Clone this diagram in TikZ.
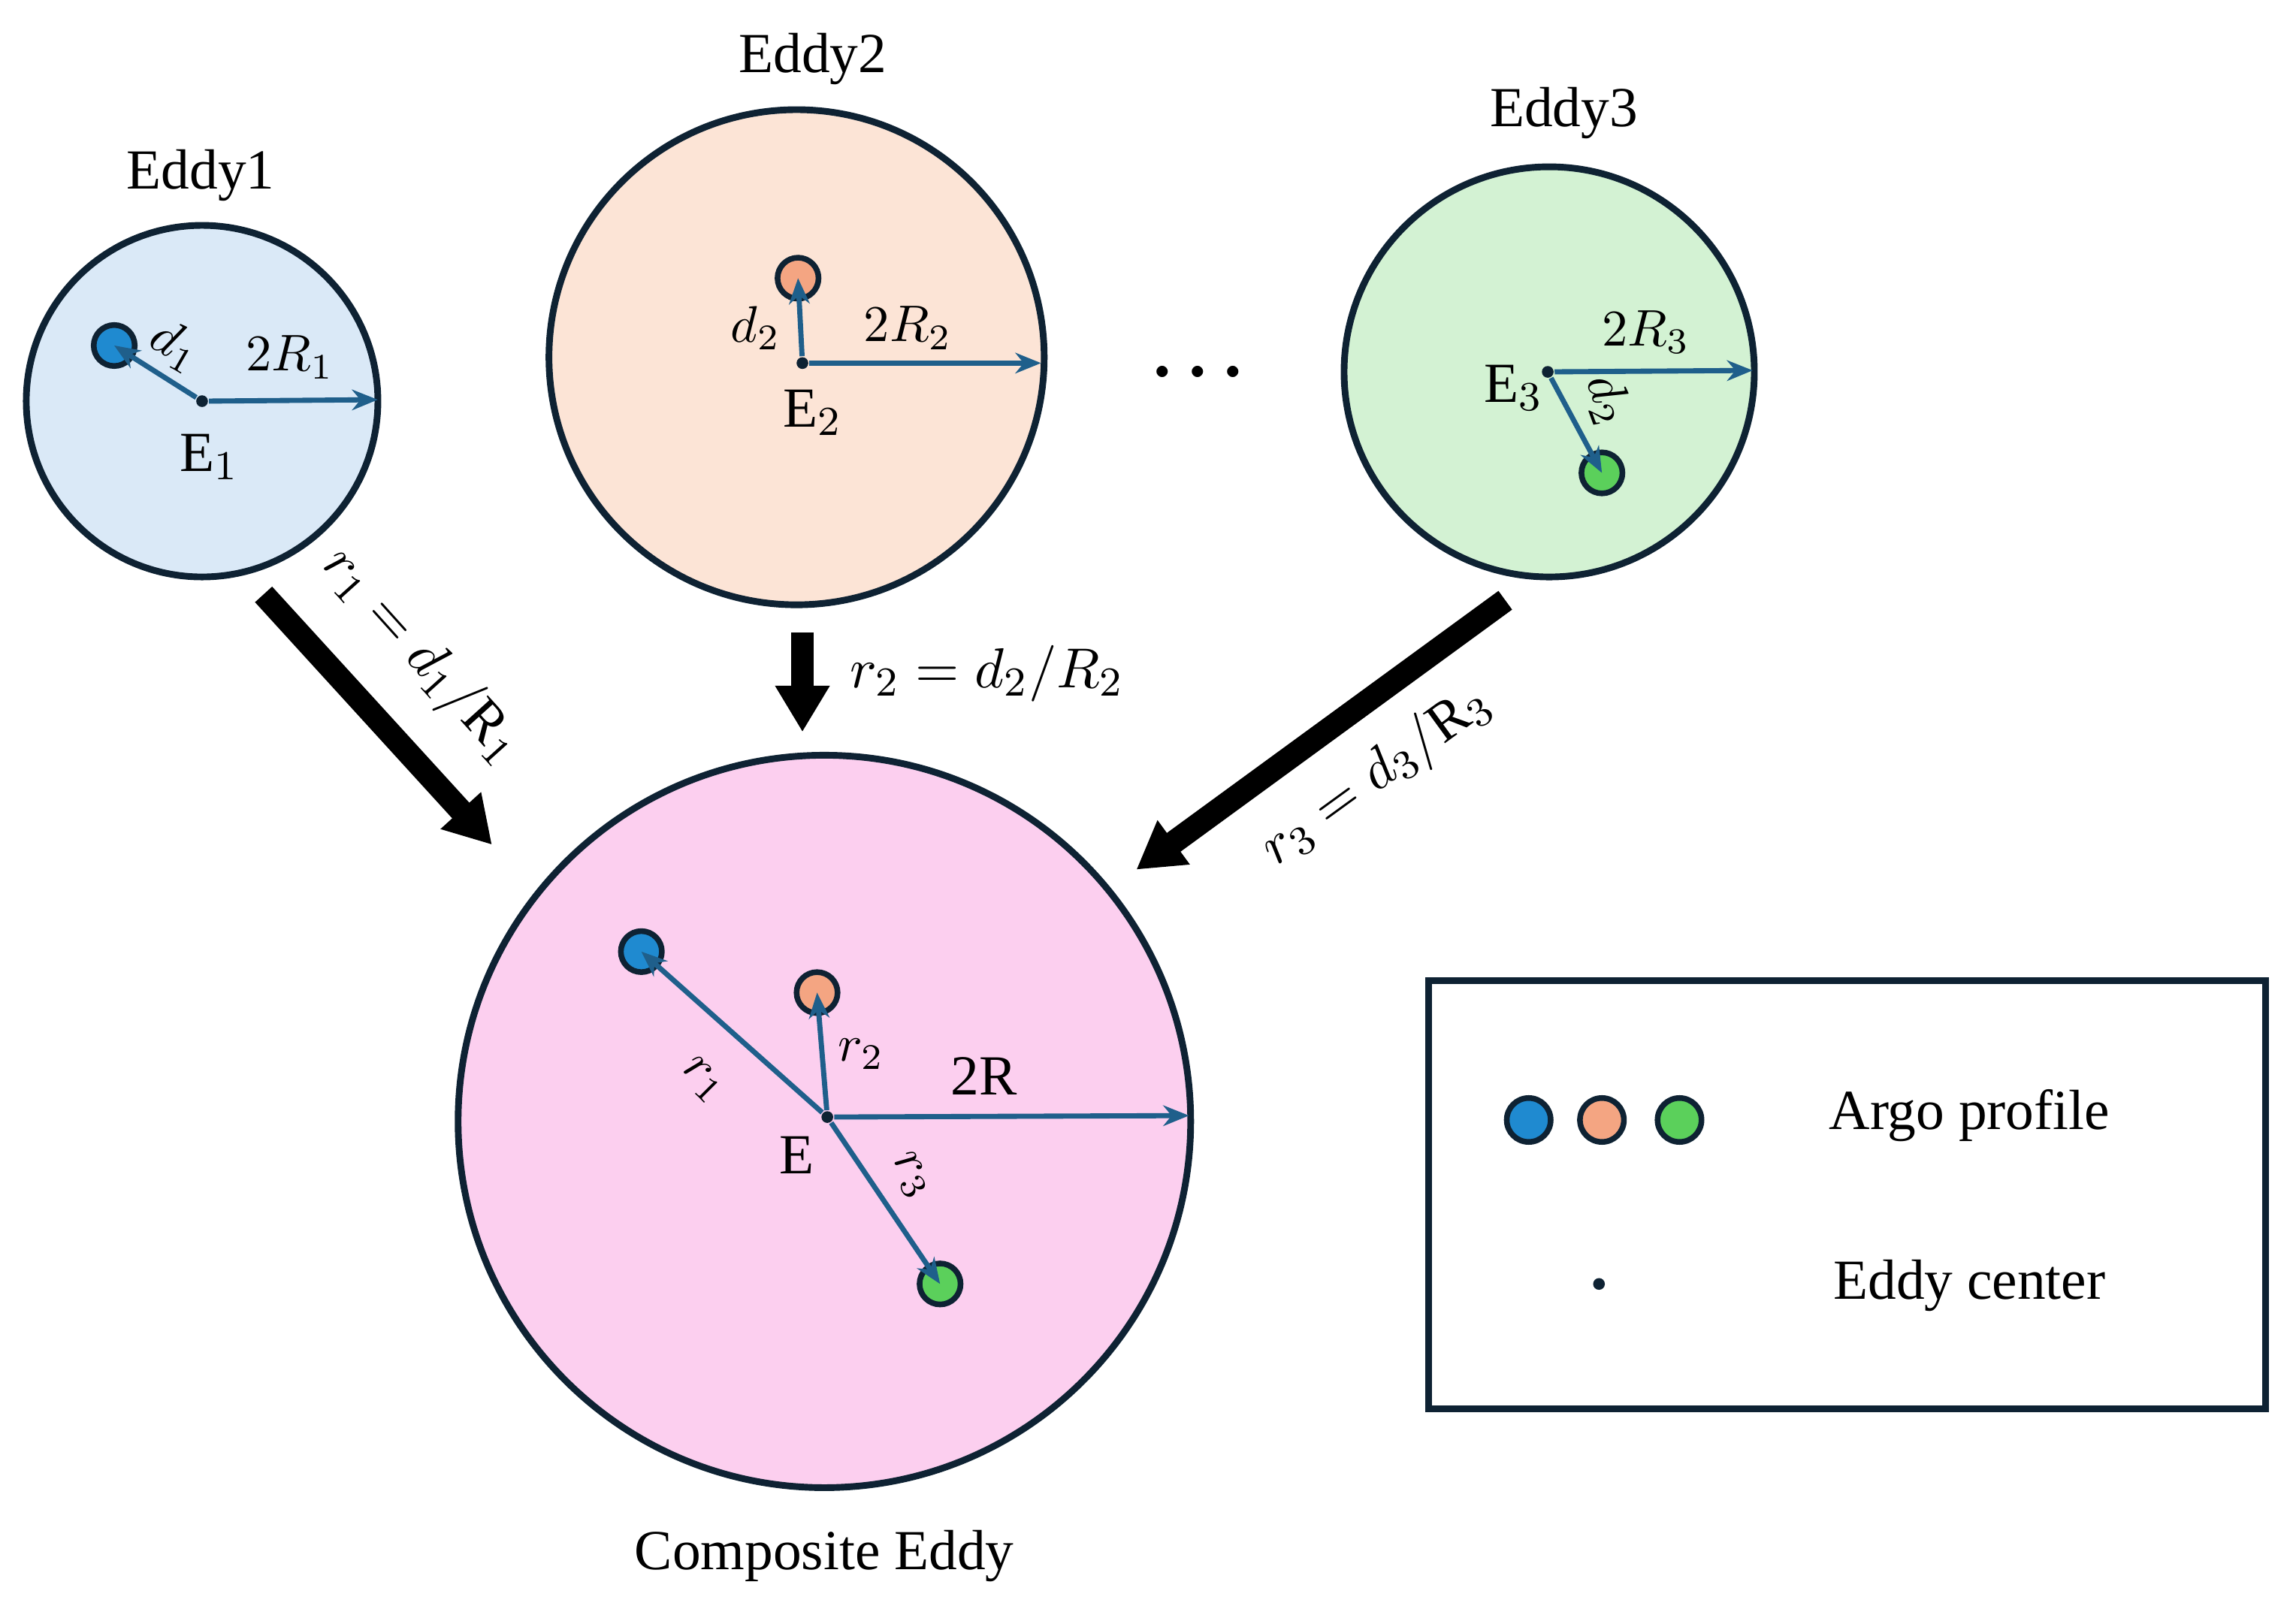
\documentclass[tikz,border=0pt]{standalone}
\usepackage{fontspec}
\setmainfont{Liberation Serif}
\usetikzlibrary{arrows.meta}
\definecolor{ebl}{HTML}{DAE9F7}
\definecolor{eor}{HTML}{FCE4D6}
\definecolor{egr}{HTML}{D3F2D3}
\definecolor{epk}{HTML}{FCCFEF}
\definecolor{pbl}{HTML}{1F8AD0}
\definecolor{por}{HTML}{F4A582}
\definecolor{pgr}{HTML}{5BD05B}
\definecolor{arr}{HTML}{1F5F8B}
\definecolor{edge}{HTML}{0E2233}
\begin{document}
\begin{tikzpicture}[x=0.01cm,y=-0.01cm,
  eddy/.style={circle,draw=edge,line width=1.3pt,inner sep=0pt},
  prof/.style={circle,draw=edge,line width=1.1pt,inner sep=0pt,minimum size=0.28cm},
  ctr/.style={circle,fill=edge,inner sep=0pt,minimum size=0.08cm},
  rad/.style={draw=arr,line width=1pt,-{Stealth[length=5pt,width=4pt]}},
  big/.style={line width=4.5pt,-{Triangle[length=9pt,width=10pt]}},
  txt/.style={font=\fontsize{11}{13}\selectfont},
  lab/.style={font=\fontsize{10}{12}\selectfont,inner sep=1pt}]
\useasboundingbox (0,0) rectangle (1568,1099);
% Eddy1
\node[eddy,fill=ebl,minimum size=2.4cm] (c1) at (138,274) {};
\node[txt] (t1) at (137,120) {Eddy1};
\node[prof,fill=pbl] (p1) at (78,236) {};
\node[ctr] (e1) at (138,274) {};
\coordinate (r1e) at (258,273);
\draw[rad] (e1) -- (p1.center);
\draw[rad] (e1) -- (r1e);
\node[txt] at (143,312) {E$_1$};
\node[lab,rotate=-30] at (120,236) {$d_1$};
\node[lab] at (198,244) {$2R_1$};
% Eddy2
\node[eddy,fill=eor,minimum size=3.38cm] (c2) at (544,244) {};
\node[txt] (t2) at (555,40) {Eddy2};
\node[prof,fill=por] (p2) at (545,190) {};
\node[ctr] (e2) at (548,248) {};
\coordinate (r2e) at (711,248);
\draw[rad] (e2) -- (p2.center);
\draw[rad] (e2) -- (r2e);
\node[txt] at (555,282) {E$_2$};
\node[lab] at (516,224) {$d_2$};
\node[lab] at (620,224) {$2R_2$};
\node[font=\fontsize{20}{20}\selectfont] at (818,256) {$\cdot\!\cdot\!\cdot$};
% Eddy3
\node[eddy,fill=egr,minimum size=2.8cm] (c3) at (1058,254) {};
\node[txt] (t3) at (1068,77) {Eddy3};
\node[prof,fill=pgr] (p3) at (1094,323) {};
\node[ctr] (e3) at (1057,254) {};
\coordinate (r3e) at (1197,253);
\draw[rad] (e3) -- (p3.center);
\draw[rad] (e3) -- (r3e);
\node[txt] at (1034,265) {E$_3$};
\node[lab,rotate=-70] at (1098,273) {$d_2$};
\node[lab] at (1124,227) {$2R_3$};
% Composite
\node[eddy,fill=epk,minimum size=5cm] (c) at (563,766) {};
\node[txt] (tc) at (563,1063) {Composite Eddy};
\node[prof,fill=pbl] (q1) at (438,650) {};
\node[prof,fill=por] (q2) at (558,678) {};
\node[prof,fill=pgr] (q3) at (642,877) {};
\node[ctr] (e) at (565,763) {};
\coordinate (re) at (812,762);
\draw[rad] (e) -- (q1.center);
\draw[rad] (e) -- (q2.center);
\draw[rad] (e) -- (q3.center);
\draw[rad] (e) -- (re);
\node[lab,rotate=-45] at (480,738) {$r_1$};
\node[lab] at (588,720) {$r_2$};
\node[txt] at (672,735) {2R};
\node[txt] at (544,789) {E};
\node[lab,rotate=-60] at (622,803) {$r_3$};
% big arrows
\coordinate (a1s) at (180,406); \coordinate (a1e) at (336,577);
\coordinate (a2s) at (548,432); \coordinate (a2e) at (548,500);
\coordinate (a3s) at (1028,410); \coordinate (a3e) at (776,594);
\draw[big] (a1s) -- (a1e);
\draw[big] (a2s) -- (a2e);
\draw[big] (a3s) -- (a3e);
\node[txt,rotate=-48] at (288,448) {$r_1 = d_1/\mathrm{R}_1$};
\node[txt,anchor=west] at (568,460) {$r_2 = d_2/R_2$};
\node[txt,rotate=36] at (940,530) {$r_3 = d_3/\mathrm{R}_3$};
% legend
\node[draw=edge,line width=1.3pt,minimum width=5.71cm,minimum height=2.92cm,inner sep=0pt] (leg) at (1261.5,816) {};
\node[prof,fill=pbl,minimum size=0.3cm] (l1) at (1044,765) {};
\node[prof,fill=por,minimum size=0.3cm] (l2) at (1094,765) {};
\node[prof,fill=pgr,minimum size=0.3cm] (l3) at (1147,765) {};
\node[ctr] (lc) at (1092,877) {};
\node[txt] at (1345,762) {Argo profile};
\node[txt] at (1345,878) {Eddy center};
\end{tikzpicture}
\end{document}
